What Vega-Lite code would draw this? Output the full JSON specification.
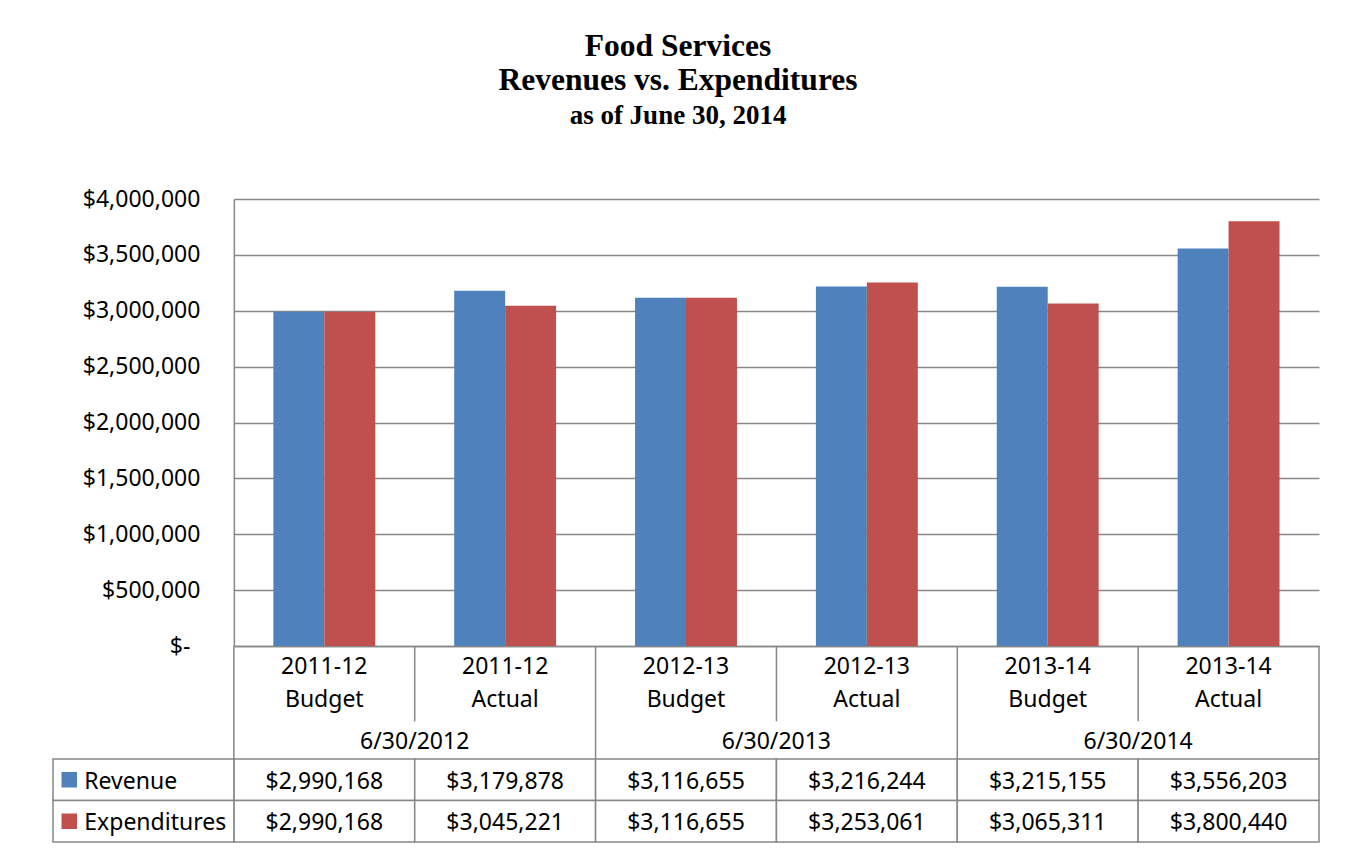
{
  "$schema": "https://vega.github.io/schema/vega-lite/v6.json",
  "background": "white",
  "padding": {"left": 52, "top": 30, "right": 20, "bottom": 5},
  "spacing": 0,
  "bounds": "flush",
  "title": {
    "text": ["Food Services", "Revenues vs. Expenditures"],
    "subtitle": "as of June 30, 2014",
    "font": "Liberation Serif",
    "fontSize": 31.5,
    "fontWeight": "bold",
    "lineHeight": 34,
    "color": "black",
    "subtitleFont": "Liberation Serif",
    "subtitleFontSize": 27,
    "subtitleFontWeight": "bold",
    "subtitleColor": "black",
    "subtitlePadding": 7,
    "anchor": "middle",
    "dx": -8,
    "offset": 59
  },
  "config": {
    "view": {"stroke": null},
    "font": "Noto Sans",
    "text": {"font": "Noto Sans", "fontSize": 23, "color": "black", "baseline": "middle", "dy": 2}
  },
  "datasets": {
    "money": [
      {"col": "2011-12 Budget", "series": "Revenue", "value": 2990168},
      {"col": "2011-12 Actual", "series": "Revenue", "value": 3179878},
      {"col": "2012-13 Budget", "series": "Revenue", "value": 3116655},
      {"col": "2012-13 Actual", "series": "Revenue", "value": 3216244},
      {"col": "2013-14 Budget", "series": "Revenue", "value": 3215155},
      {"col": "2013-14 Actual", "series": "Revenue", "value": 3556203},
      {"col": "2011-12 Budget", "series": "Expenditures", "value": 2990168},
      {"col": "2011-12 Actual", "series": "Expenditures", "value": 3045221},
      {"col": "2012-13 Budget", "series": "Expenditures", "value": 3116655},
      {"col": "2012-13 Actual", "series": "Expenditures", "value": 3253061},
      {"col": "2013-14 Budget", "series": "Expenditures", "value": 3065311},
      {"col": "2013-14 Actual", "series": "Expenditures", "value": 3800440}
    ],
    "cols": [
      {"col": "2011-12 Budget", "year": "2011-12", "kind": "Budget"},
      {"col": "2011-12 Actual", "year": "2011-12", "kind": "Actual"},
      {"col": "2012-13 Budget", "year": "2012-13", "kind": "Budget"},
      {"col": "2012-13 Actual", "year": "2012-13", "kind": "Actual"},
      {"col": "2013-14 Budget", "year": "2013-14", "kind": "Budget"},
      {"col": "2013-14 Actual", "year": "2013-14", "kind": "Actual"}
    ],
    "groups": [
      {"group": "6/30/2012", "col": "2011-12 Actual"},
      {"group": "6/30/2013", "col": "2012-13 Actual"},
      {"group": "6/30/2014", "col": "2013-14 Actual"}
    ],
    "series": [
      {"series": "Revenue"},
      {"series": "Expenditures"}
    ]
  },
  "vconcat": [
    {
      "width": 1266,
      "height": 447,
      "data": {"name": "money"},
      "mark": {"type": "bar"},
      "encoding": {
        "x": {
          "field": "col", "type": "nominal", "sort": null,
          "scale": {
            "type": "band",
            "domain": ["2011-12 Budget", "2011-12 Actual", "2012-13 Budget", "2012-13 Actual", "2013-14 Budget", "2013-14 Actual"],
            "range": [180.86, 1266], "paddingInner": 0, "paddingOuter": 0
          },
          "axis": {"title": null, "labels": false, "ticks": false, "domainColor": "#878787", "domainWidth": 1.5}
        },
        "xOffset": {
          "field": "series", "type": "nominal",
          "scale": {"domain": ["Revenue", "Expenditures"], "paddingInner": 0, "paddingOuter": 0.775}
        },
        "y": {
          "field": "value", "type": "quantitative",
          "scale": {"domain": [0, 4000000], "nice": false},
          "axis": {
            "title": null,
            "values": [0, 500000, 1000000, 1500000, 2000000, 2500000, 3000000, 3500000, 4000000],
            "offset": -180.86,
            "ticks": false,
            "domainColor": "#878787", "domainWidth": 1.5,
            "grid": true, "gridColor": "#878787", "gridWidth": 1.5,
            "labelFont": "Noto Sans", "labelFontSize": 23, "labelColor": "black",
            "labelPadding": {"condition": {"test": "datum.value == 0", "value": 44}, "value": 34},
            "labelExpr": "datum.value == 0 ? '$-' : format(datum.value, '$,.0f')"
          }
        },
        "color": {
          "field": "series", "type": "nominal",
          "scale": {"domain": ["Revenue", "Expenditures"], "range": ["#4F81BD", "#C0504D"]},
          "legend": null
        }
      }
    },
    {
      "width": 1266,
      "height": 113,
      "layer": [
        {
          "data": {"name": "cols"},
          "transform": [{"filter": "datum.kind == 'Budget'"}],
          "mark": {"type": "rule", "color": "#878787", "strokeWidth": 1.5},
          "encoding": {
            "x": {
              "field": "col", "type": "nominal", "bandPosition": 0,
              "scale": {
                "type": "band",
                "domain": ["legend", "2011-12 Budget", "2011-12 Actual", "2012-13 Budget", "2012-13 Actual", "2013-14 Budget", "2013-14 Actual"],
                "paddingInner": 0, "paddingOuter": 0
              },
              "axis": null
            }
          }
        },
        {
          "data": {"name": "cols"},
          "transform": [{"filter": "datum.col == '2013-14 Actual'"}],
          "mark": {"type": "rule", "color": "#878787", "strokeWidth": 1.5},
          "encoding": {
            "x": {"field": "col", "type": "nominal", "bandPosition": 1, "axis": null}
          }
        },
        {
          "data": {"name": "cols"},
          "transform": [{"filter": "datum.kind == 'Actual'"}],
          "mark": {"type": "rule", "color": "#878787", "strokeWidth": 1.5},
          "encoding": {
            "x": {"field": "col", "type": "nominal", "bandPosition": 0, "axis": null},
            "y": {
              "datum": "cat1", "type": "nominal", "bandPosition": 0,
              "scale": {"type": "band", "domain": ["cat1", "cat2", "group"], "paddingInner": 0, "paddingOuter": 0},
              "axis": null
            },
            "y2": {"datum": "cat2", "bandPosition": 1}
          }
        },
        {
          "data": {"name": "cols"},
          "mark": {"type": "text"},
          "encoding": {
            "x": {"field": "col", "type": "nominal", "axis": null},
            "y": {"datum": "cat1", "type": "nominal", "axis": null},
            "text": {"field": "year"}
          }
        },
        {
          "data": {"name": "cols"},
          "mark": {"type": "text", "dy": -3},
          "encoding": {
            "x": {"field": "col", "type": "nominal", "axis": null},
            "y": {"datum": "cat2", "type": "nominal", "axis": null},
            "text": {"field": "kind"}
          }
        },
        {
          "data": {"name": "groups"},
          "mark": {"type": "text"},
          "encoding": {
            "x": {"field": "col", "type": "nominal", "bandPosition": 0, "axis": null},
            "y": {"datum": "group", "type": "nominal", "axis": null},
            "text": {"field": "group"}
          }
        }
      ]
    },
    {
      "width": 1266,
      "height": 83,
      "layer": [
        {
          "data": {"name": "money"},
          "mark": {"type": "rect", "fill": "white", "stroke": "#878787", "strokeWidth": 1.5},
          "encoding": {
            "x": {
              "field": "col", "type": "nominal",
              "scale": {
                "type": "band",
                "domain": ["legend", "2011-12 Budget", "2011-12 Actual", "2012-13 Budget", "2012-13 Actual", "2013-14 Budget", "2013-14 Actual"],
                "paddingInner": 0, "paddingOuter": 0
              },
              "axis": null
            },
            "y": {
              "field": "series", "type": "nominal",
              "scale": {"type": "band", "domain": ["Revenue", "Expenditures"], "paddingInner": 0, "paddingOuter": 0},
              "axis": null
            }
          }
        },
        {
          "data": {"name": "series"},
          "mark": {"type": "rect", "fill": "white", "stroke": "#878787", "strokeWidth": 1.5},
          "encoding": {
            "x": {"datum": "legend", "type": "nominal", "axis": null},
            "y": {"field": "series", "type": "nominal", "axis": null}
          }
        },
        {
          "data": {"name": "money"},
          "mark": {"type": "text"},
          "encoding": {
            "x": {"field": "col", "type": "nominal", "axis": null},
            "y": {"field": "series", "type": "nominal", "axis": null},
            "text": {"field": "value", "type": "quantitative", "format": "$,.0f"}
          }
        },
        {
          "data": {"name": "series"},
          "mark": {"type": "square", "filled": true, "size": 240, "opacity": 1},
          "encoding": {
            "x": {"datum": "legend", "type": "nominal", "bandPosition": 0.09, "axis": null},
            "y": {"field": "series", "type": "nominal", "axis": null},
            "color": {"field": "series", "type": "nominal", "legend": null}
          }
        },
        {
          "data": {"name": "series"},
          "mark": {"type": "text", "align": "left"},
          "encoding": {
            "x": {"datum": "legend", "type": "nominal", "bandPosition": 0.173, "axis": null},
            "y": {"field": "series", "type": "nominal", "axis": null},
            "text": {"field": "series"}
          }
        }
      ]
    }
  ]
}
